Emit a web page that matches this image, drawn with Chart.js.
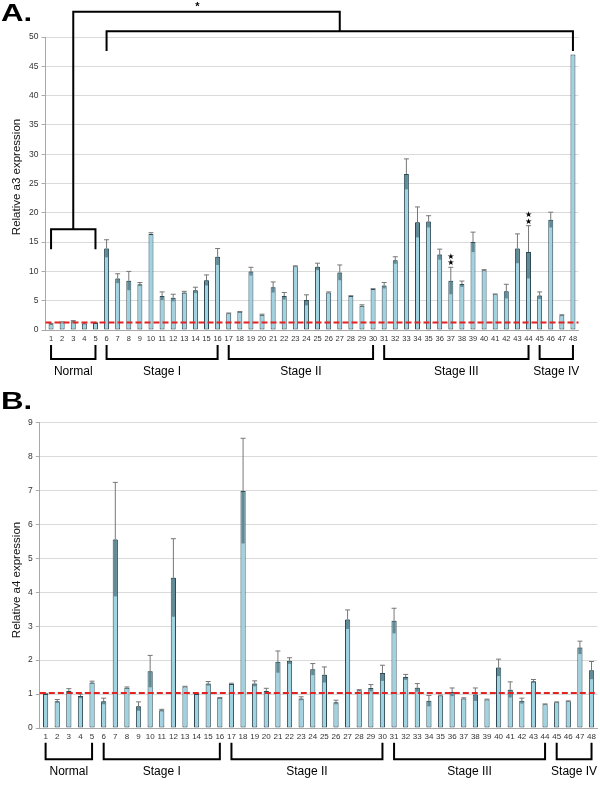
<!DOCTYPE html>
<html>
<head>
<meta charset="utf-8">
<script src="https://cdn.jsdelivr.net/npm/chart.js@4.4.1/dist/chart.umd.min.js"></script>
<style>
  html, body { margin: 0; padding: 0; background: #fff; }
  #wrap { position: relative; width: 600px; height: 786px; }
  canvas { position: absolute; left: 0; }
  #chartA { top: 0; }
  #chartB { top: 390px; }
</style>
</head>
<body>
<div id="wrap">
  <canvas id="chartA" width="600" height="390"></canvas>
  <canvas id="chartB" width="600" height="396"></canvas>
</div>
<script>
// sample numbers along the x axis
const samples = ['1','2','3','4','5','6','7','8','9','10','11','12','13','14','15','16',
    '17','18','19','20','21','22','23','24','25','26','27','28','29','30','31','32',
    '33','34','35','36','37','38','39','40','41','42','43','44','45','46','47','48'];

// panel A - relative a3 expression
const a3Values = [1.0, 1.3, 1.5, 1.1, 1.2, 13.9, 8.8, 8.4, 7.8, 16.4, 5.8, 5.5, 6.4, 6.8, 8.5, 12.5,
    2.85, 3.1, 10.0, 2.6, 7.3, 5.8, 10.9, 5.1, 10.8, 6.4, 9.8, 5.8, 4.15, 7.0, 7.6, 11.9,
    26.6, 18.4, 18.5, 12.9, 8.4, 7.85, 15.0, 10.2, 6.1, 6.6, 13.9, 13.3, 5.9, 18.8, 2.5, 47.0];
const a3Errors = [0.1, 0.1, 0.1, 0.1, 0.1, 1.5, 0.8, 1.6, 0.3, 0.2, 0.7, 0.6, 0.2, 0.5, 0.9, 1.4,
    0.05, 0.05, 0.7, 0.1, 0.9, 0.6, 0.05, 0.9, 0.6, 0.1, 1.3, 0.05, 0.15, 0.05, 0.5, 0.6,
    2.6, 2.6, 1.0, 0.9, 2.3, 0.5, 1.7, 0.1, 0.05, 1.2, 2.5, 4.5, 0.6, 1.3, 0.1, 0];
const a3Ticks = { max: 50, step: 5 };
const a3Cutoff = 1.3;
const a3Starred = [37, 44];

// panel B - relative a4 expression
const a4Values = [1.0, 0.79, 1.09, 0.94, 1.34, 0.79, 5.56, 1.19, 0.64, 1.67, 0.52, 4.43, 1.22, 1.0, 1.31, 0.89,
    1.3, 6.99, 1.31, 1.09, 1.95, 1.98, 0.87, 1.73, 1.57, 0.76, 3.2, 1.11, 1.18, 1.62, 3.16, 1.5,
    1.19, 0.8, 0.96, 1.06, 0.87, 0.99, 0.84, 1.78, 1.13, 0.8, 1.38, 0.7, 0.76, 0.79, 2.37, 1.7];
const a4Errors = [0.02, 0.05, 0.07, 0.06, 0.04, 0.09, 1.68, 0.02, 0.13, 0.47, 0.03, 1.15, 0.01, 0.02, 0.06, 0.01,
    0.02, 1.55, 0.08, 0.08, 0.32, 0.09, 0.05, 0.17, 0.23, 0.06, 0.28, 0.02, 0.1, 0.23, 0.37, 0.08,
    0.12, 0.16, 0.01, 0.12, 0.02, 0.19, 0.01, 0.25, 0.23, 0.08, 0.05, 0.01, 0.01, 0.01, 0.19, 0.26];
const a4Ticks = { max: 9, step: 1 };
const a4Cutoff = 1.03;

// sample groups (first and last sample number)
const groupNames = ['Normal', 'Stage I', 'Stage II', 'Stage III', 'Stage IV'];
const groupFirst = [1, 6, 17, 31, 45];
const groupLast = [5, 16, 30, 44, 48];

const FONT = "'Liberation Sans', Arial, sans-serif";
Chart.defaults.font.family = FONT;

function line(ctx, pts) {
    ctx.beginPath();
    ctx.moveTo(pts[0][0], pts[0][1]);
    for (let i = 1; i < pts.length; i++) ctx.lineTo(pts[i][0], pts[i][1]);
    ctx.stroke();
}

const extras = {
    id: 'extras',
    afterDatasetsDraw(chart, args, o) {
        const ctx = chart.ctx;
        const x = chart.scales.x, y = chart.scales.y;
        const area = chart.chartArea;
        const meta = chart.getDatasetMeta(0);
        const vals = chart.data.datasets[0].data;
        ctx.save();

        // error bars: darker lower half inside the bar, whisker above
        vals.forEach((v, i) => {
            const e = o.errors[i];
            if (!e) return;
            const bar = meta.data[i];
            const cx = bar.x, w = bar.width;
            const yTop = y.getPixelForValue(v);
            const yLow = y.getPixelForValue(Math.max(0, v - e));
            ctx.fillStyle = 'rgba(45, 80, 90, 0.55)';
            ctx.fillRect(cx - w / 2 + 1, yTop, w - 2, yLow - yTop);
            const yHi = y.getPixelForValue(v + e);
            ctx.strokeStyle = '#777';
            ctx.lineWidth = 1;
            line(ctx, [[cx, yTop], [cx, yHi]]);
            line(ctx, [[cx - 2.5, yHi], [cx + 2.5, yHi]]);
        });

        // cutoff line
        ctx.strokeStyle = '#e32222';
        ctx.lineWidth = 2;
        ctx.setLineDash([6, 3]);
        const yc = y.getPixelForValue(o.cutoff);
        line(ctx, [[area.left, yc], [area.right, yc]]);
        ctx.setLineDash([]);

        // group brackets under the axis
        ctx.strokeStyle = '#000';
        ctx.lineWidth = 2;
        ctx.fillStyle = '#000';
        ctx.font = '12px ' + FONT;
        ctx.textAlign = 'center';
        ctx.textBaseline = 'middle';
        groupNames.forEach((g, i) => {
            const x1 = x.getPixelForValue(groupFirst[i] - 1);
            const x2 = x.getPixelForValue(groupLast[i] - 1);
            const t = area.bottom + o.brTop, b = area.bottom + o.brBottom;
            line(ctx, [[x1, t], [x1, b], [x2, b], [x2, t]]);
            ctx.fillText(g, (x1 + x2) / 2, area.bottom + o.labelOffset);
        });

        // significance brackets
        if (o.sig) {
            const n1 = x.getPixelForValue(groupFirst[0] - 1);
            const n2 = x.getPixelForValue(groupLast[0] - 1);
            const s1 = x.getPixelForValue(groupFirst[1] - 1);
            const s2 = x.getPixelForValue(groupLast[4] - 1);
            const nTop = y.getPixelForValue(17.2), nLeg = y.getPixelForValue(13.8);
            const sTop = y.getPixelForValue(51.0), sLeg = y.getPixelForValue(47.6);
            const top = y.getPixelForValue(54.3);
            line(ctx, [[n1, nLeg], [n1, nTop], [n2, nTop], [n2, nLeg]]);
            line(ctx, [[s1, sLeg], [s1, sTop], [s2, sTop], [s2, sLeg]]);
            const nm = (n1 + n2) / 2, sm = (s1 + s2) / 2;
            line(ctx, [[nm, nTop], [nm, top], [sm, top], [sm, sTop]]);
            ctx.font = 'bold 11px ' + FONT;
            ctx.fillText('*', (nm + sm) / 2 - 9, top - 5);

            ctx.font = '8px "DejaVu Sans"';
            a3Starred.forEach(n => {
                const i = n - 1;
                const cx = meta.data[i].x;
                const yHi = y.getPixelForValue(vals[i] + o.errors[i]);
                ctx.fillText('\u2605', cx, yHi - 4);
                ctx.fillText('\u2605', cx, yHi - 10.5);
            });
        }

        // axis title
        ctx.save();
        ctx.translate(17, o.titleY);
        ctx.rotate(-Math.PI / 2);
        ctx.font = '11.5px ' + FONT;
        ctx.fillStyle = '#111';
        ctx.fillText(o.title, 0, 0);
        ctx.restore();

        // panel letter
        ctx.save();
        ctx.translate(1, o.letterY);
        ctx.scale(1.3, 1);
        ctx.font = 'bold 24px ' + FONT;
        ctx.textAlign = 'left';
        ctx.textBaseline = 'alphabetic';
        ctx.fillText(o.letter, 0, 0);
        ctx.restore();

        ctx.restore();
    }
};

function makeChart(id, values, errors, ticks, pad, yWidth, xHeight, tickFont, opts) {
    return new Chart(document.getElementById(id), {
        type: 'bar',
        data: {
            labels: samples,
            datasets: [{
                data: values,
                backgroundColor: '#9fd3e1',
                borderColor: '#2e4852',
                borderWidth: 1,
                borderSkipped: false,
                barPercentage: 0.9,
                categoryPercentage: 0.5
            }]
        },
        options: {
            responsive: false,
            animation: false,
            layout: { padding: pad },
            plugins: {
                legend: { display: false },
                tooltip: { enabled: false },
                extras: Object.assign({ errors: errors }, opts)
            },
            scales: {
                x: {
                    grid: { display: false, drawTicks: false },
                    border: { display: true, color: '#a8a8a8' },
                    ticks: {
                        autoSkip: false,
                        maxRotation: 0,
                        minRotation: 0,
                        padding: 4,
                        color: '#333',
                        font: { size: tickFont }
                    },
                    afterFit: s => { s.height = xHeight; }
                },
                y: {
                    min: 0,
                    max: ticks.max,
                    grid: { color: '#dadada', tickLength: 4, tickColor: '#aaa' },
                    border: { color: '#a8a8a8' },
                    ticks: {
                        stepSize: ticks.step,
                        padding: 3,
                        color: '#333',
                        font: { size: 8.5 }
                    },
                    afterFit: s => { s.width = yWidth; }
                }
            }
        },
        plugins: [extras]
    });
}

makeChart('chartA', a3Values, a3Errors, a3Ticks,
    { top: 37, right: 21.5, left: 0, bottom: 0 }, 45.5, 60, 7.5,
    { cutoff: a3Cutoff, sig: true, brTop: 15, brBottom: 29, labelOffset: 42,
      title: 'Relative a3 expression', titleY: 177, letter: 'A.', letterY: 21 });

makeChart('chartB', a4Values, a4Errors, a4Ticks,
    { top: 32.7, right: 2.3, left: 0, bottom: 0 }, 39.8, 58, 8,
    { cutoff: a4Cutoff, sig: false, brTop: 14.7, brBottom: 31.3, labelOffset: 44,
      title: 'Relative a4 expression', titleY: 190, letter: 'B.', letterY: 19 });
</script>
</body>
</html>
